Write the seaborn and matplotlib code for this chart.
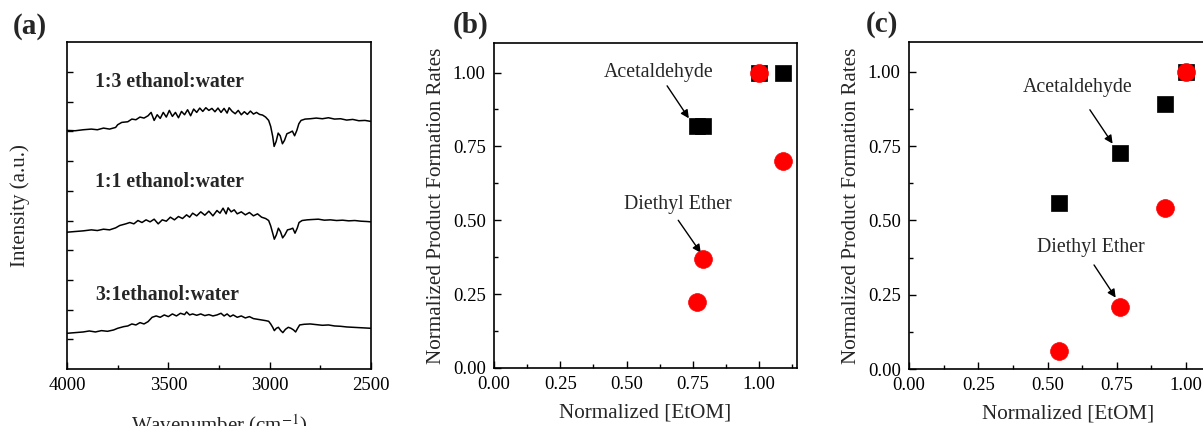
import numpy as np
import pandas as pd
import matplotlib
matplotlib.use("Agg")
import matplotlib.pyplot as plt
import seaborn as sns

# ---- panel (a): FTIR spectra (wavenumber, intensity) ----
wn_top = [4000, 3960, 3920, 3880, 3850, 3820, 3790, 3760, 3750, 3730, 3700, 3680, 3660, 3640, 3620,
          3600, 3585, 3570, 3555, 3540, 3525, 3510, 3495, 3480, 3465, 3450, 3435, 3420, 3405, 3390,
          3375, 3360, 3345, 3330, 3315, 3300, 3285, 3270, 3255, 3240, 3225, 3210, 3200, 3185, 3170,
          3155, 3140, 3125, 3110, 3095, 3080, 3065, 3050, 3035, 3020, 3005, 2995, 2985, 2978, 2968,
          2958, 2948, 2937, 2927, 2915, 2900, 2888, 2877, 2866, 2856, 2845, 2825, 2800, 2770, 2740,
          2710, 2680, 2650, 2620, 2590, 2560, 2530, 2500]
int_top = [7.15, 7.14, 7.17, 7.19, 7.17, 7.22, 7.19, 7.24, 7.32, 7.39, 7.41, 7.49, 7.47, 7.55, 7.52,
           7.59, 7.69, 7.45, 7.62, 7.51, 7.69, 7.55, 7.75, 7.57, 7.69, 7.53, 7.72, 7.62, 7.77, 7.59,
           7.79, 7.69, 7.82, 7.72, 7.83, 7.75, 7.81, 7.71, 7.82, 7.69, 7.81, 7.67, 7.83, 7.72, 7.65,
           7.75, 7.62, 7.71, 7.63, 7.73, 7.64, 7.69, 7.63, 7.61, 7.55, 7.45, 7.27, 6.97, 6.67, 6.82,
           7.07, 6.99, 6.75, 6.85, 7.05, 7.09, 7.13, 6.99, 7.15, 7.35, 7.45, 7.49, 7.50, 7.52, 7.50,
           7.53, 7.49, 7.50, 7.46, 7.48, 7.44, 7.45, 7.42]

wn_mid = [4000, 3960, 3920, 3880, 3850, 3820, 3790, 3760, 3740, 3710, 3690, 3670, 3650, 3630, 3610,
          3590, 3570, 3550, 3530, 3510, 3490, 3470, 3450, 3430, 3410, 3395, 3380, 3360, 3340, 3320,
          3300, 3280, 3260, 3245, 3230, 3215, 3205, 3190, 3175, 3160, 3140, 3120, 3100, 3080, 3060,
          3040, 3020, 3005, 2995, 2985, 2977, 2967, 2957, 2947, 2936, 2925, 2912, 2898, 2886, 2875,
          2864, 2855, 2840, 2815, 2790, 2760, 2730, 2700, 2670, 2640, 2610, 2580, 2550, 2520, 2500]
int_mid = [4.10, 4.12, 4.14, 4.17, 4.15, 4.19, 4.17, 4.23, 4.30, 4.35, 4.39, 4.35, 4.45, 4.39, 4.47,
           4.41, 4.49, 4.35, 4.47, 4.43, 4.55, 4.47, 4.57, 4.51, 4.62, 4.55, 4.67, 4.59, 4.71, 4.61,
           4.73, 4.59, 4.75, 4.67, 4.82, 4.65, 4.83, 4.71, 4.77, 4.65, 4.71, 4.62, 4.69, 4.59, 4.65,
           4.55, 4.51, 4.45, 4.29, 4.07, 3.89, 4.02, 4.22, 4.12, 3.93, 4.02, 4.17, 4.19, 4.22, 4.07,
           4.22, 4.39, 4.45, 4.47, 4.48, 4.49, 4.46, 4.47, 4.45, 4.46, 4.44, 4.45, 4.43, 4.42, 4.41]

wn_bot = [4000, 3960, 3920, 3890, 3860, 3830, 3800, 3770, 3750, 3720, 3700, 3680, 3660, 3640, 3620,
          3600, 3580, 3560, 3540, 3520, 3500, 3480, 3460, 3440, 3420, 3410, 3395, 3380, 3360, 3340,
          3320, 3300, 3280, 3260, 3240, 3225, 3210, 3195, 3180, 3160, 3140, 3120, 3100, 3080, 3060,
          3040, 3020, 3005, 2995, 2985, 2977, 2967, 2957, 2945, 2935, 2922, 2908, 2895, 2882, 2872,
          2862, 2852, 2830, 2800, 2770, 2740, 2710, 2680, 2650, 2620, 2590, 2560, 2530, 2500]
int_bot = [1.07, 1.09, 1.11, 1.14, 1.11, 1.15, 1.13, 1.17, 1.22, 1.27, 1.29, 1.35, 1.32, 1.39, 1.35,
           1.42, 1.55, 1.59, 1.55, 1.62, 1.57, 1.65, 1.59, 1.67, 1.63, 1.71, 1.62, 1.65, 1.61, 1.65,
           1.60, 1.63, 1.59, 1.62, 1.67, 1.59, 1.65, 1.57, 1.62, 1.55, 1.59, 1.53, 1.57, 1.51, 1.49,
           1.47, 1.45, 1.43, 1.35, 1.25, 1.15, 1.22, 1.25, 1.15, 1.09, 1.19, 1.25, 1.22, 1.17, 1.11,
           1.22, 1.32, 1.34, 1.35, 1.33, 1.31, 1.32, 1.29, 1.28, 1.26, 1.25, 1.24, 1.23, 1.22]

spec_labels = ["1:3 ethanol:water", "1:1 ethanol:water", "3:1ethanol:water"]
spec_label_y = [8.60, 5.60, 2.22]

# ---- panel (b) ----
b_acet_x = [0.765, 0.79, 1.00, 1.09]
b_acet_y = [0.82, 0.82, 1.00, 1.00]
b_ether_x = [1.00, 1.09, 0.79, 0.765]
b_ether_y = [1.00, 0.70, 0.37, 0.225]

# ---- panel (c) ----
c_acet_x = [0.543, 0.76, 0.925, 1.00]
c_acet_y = [0.56, 0.725, 0.89, 1.00]
c_ether_x = [0.543, 0.76, 0.925, 1.00]
c_ether_y = [0.062, 0.21, 0.543, 1.00]

rate_ticks = [0.00, 0.25, 0.50, 0.75, 1.00]

sns.set_style("ticks")
plt.rcParams['font.family'] = ['Liberation Serif', 'DejaVu Serif']
plt.rcParams['mathtext.fontset'] = 'stix'

fig = plt.figure(figsize=(12.03, 4.26), dpi=100)
W, H = 1203, 426


def px_axes(l, t, r, b):
    return fig.add_axes([l / W, 1 - b / H, (r - l) / W, (b - t) / H])


def style_axes(ax):
    for s in ax.spines.values():
        s.set_visible(True)
        s.set_linewidth(1.2)
        s.set_color('black')
    ax.tick_params(which='both', direction='in', top=False, right=False, colors='black')
    ax.tick_params(which='major', length=5, width=1, labelsize=13.5, pad=6)
    ax.tick_params(which='minor', length=3, width=1)


# (a)
ax_a = px_axes(67, 42, 371, 369)
spec = pd.concat([
    pd.DataFrame({'wn': wn_top, 'I': int_top, 's': 'top'}),
    pd.DataFrame({'wn': wn_mid, 'I': int_mid, 's': 'mid'}),
    pd.DataFrame({'wn': wn_bot, 'I': int_bot, 's': 'bot'}),
])
sns.lineplot(data=spec, x='wn', y='I', units='s', estimator=None, sort=False,
             color='black', lw=1.1, ax=ax_a, legend=False)
ax_a.set_xlim(4000, 2500)
ax_a.set_ylim(0, 9.8)
ax_a.set_xticks([4000, 3500, 3000, 2500])
ax_a.set_xticks([3750, 3250, 2750], minor=True)
ax_a.set_yticks([0.89 * k for k in range(1, 11)])
ax_a.set_yticklabels([])
style_axes(ax_a)
ax_a.tick_params(axis='y', which='major', length=4)
for lab, y in zip(spec_labels, spec_label_y):
    ax_a.text(3860, y, lab, fontsize=14.2, fontweight='bold', va='center', ha='left')
ax_a.set_xlabel('Wavenumber (cm$^{-1}$)', fontsize=15, labelpad=13)
ax_a.set_ylabel('Intensity (a.u.)', fontsize=15, labelpad=21)
fig.text(30 / W, 1 - 26 / H, '(a)', fontsize=21, fontweight='bold', ha='center', va='center')


def rate_panel(ax, ax_, ay_, ex_, ey_, xmax, ann):
    sns.scatterplot(x=ax_, y=ay_, marker='s', s=140, color='black', edgecolor='black',
                    linewidth=0.5, ax=ax, legend=False, zorder=3)
    sns.scatterplot(x=ex_, y=ey_, marker='o', s=165, color='red', edgecolor='red',
                    linewidth=0.5, ax=ax, legend=False, zorder=4)
    ax.set_xlim(0, xmax)
    ax.set_ylim(0, 1.1)
    ax.set_xticks(rate_ticks)
    ax.set_xticks([0.125, 0.375, 0.625, 0.875, 1.125], minor=True)
    ax.set_yticks(rate_ticks)
    ax.set_yticks([0.125, 0.375, 0.625, 0.875], minor=True)
    ax.set_xticklabels([f'{t:.2f}' for t in rate_ticks])
    ax.set_yticklabels([f'{t:.2f}' for t in rate_ticks])
    style_axes(ax)
    ax.set_xlabel('Normalized [EtOM]', fontsize=15.2, labelpad=7)
    ax.set_ylabel('Normalized Product Formation Rates', fontsize=15.2, labelpad=5)
    for text, (tx, ty), (sx, sy), (hx, hy) in ann:
        ax.text(tx, ty, text, fontsize=14.3, ha='center', va='center')
        ax.annotate('', xy=(hx, hy), xytext=(sx, sy),
                    arrowprops=dict(arrowstyle='-|>', color='black', lw=1, mutation_scale=12,
                                    shrinkA=0, shrinkB=0))


# (b)
ax_b = px_axes(494, 43, 797, 368)
rate_panel(ax_b, b_acet_x, b_acet_y, b_ether_x, b_ether_y, 1.143,
           [('Acetaldehyde', (0.62, 1.0), (0.653, 0.955), (0.735, 0.845)),
            ('Diethyl Ether', (0.694, 0.553), (0.695, 0.50), (0.78, 0.39))])
fig.text(471 / W, 1 - 25 / H, '(b)', fontsize=21, fontweight='bold', ha='center', va='center')

# (c)
ax_c = px_axes(909, 42, 909 + 1.15 * 277, 369)
rate_panel(ax_c, c_acet_x, c_acet_y, c_ether_x, c_ether_y, 1.15,
           [('Acetaldehyde', (0.61, 0.946), (0.653, 0.872), (0.735, 0.758)),
            ('Diethyl Ether', (0.657, 0.41), (0.668, 0.35), (0.746, 0.24))])
fig.text(882 / W, 1 - 25 / H, '(c)', fontsize=21, fontweight='bold', ha='center', va='center')

fig.savefig('out.png', dpi=100)
